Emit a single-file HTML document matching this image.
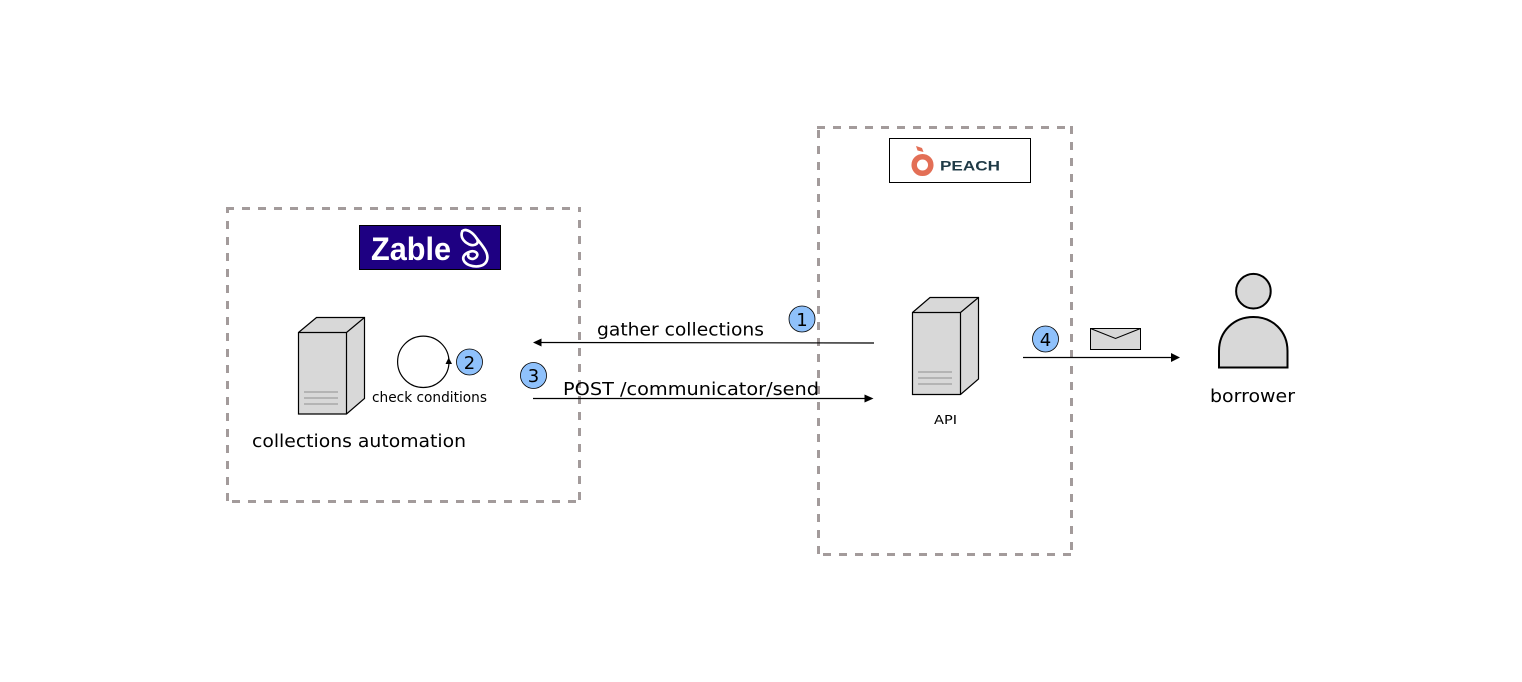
<!DOCTYPE html>
<html><head><meta charset="utf-8"><style>
html,body{margin:0;padding:0;background:#fff}
svg{display:block}
text{font-family:"DejaVu Sans",Verdana,sans-serif;fill:#000}
</style></head><body>
<svg width="1522" height="682" viewBox="0 0 1522 682" xmlns="http://www.w3.org/2000/svg">
<rect width="1522" height="682" fill="#fff"/>
<g fill="none" stroke="#a39b9b" stroke-width="3" stroke-dasharray="8 8">
<path d="M226 208.500H581"/>
<path d="M579.500 220V500"/>
<path d="M232 501.500H576"/>
<path d="M227.500 221V501"/>
<path d="M817 127.500H1073"/>
<path d="M818.500 130V554"/>
<path d="M1071.500 126V550"/>
<path d="M823 554.500H1071"/>
</g>
<path d="M227.500 207V213M579.500 207V212" stroke="#a39b9b" stroke-width="3" fill="none"/>
<!-- Zable logo -->
<rect x="359.500" y="225.500" width="141" height="44" fill="#1e0082" stroke="#000"/>
<text x="371" y="260" style="font-family:'Liberation Sans',sans-serif;font-weight:700;font-size:32px;fill:#fff" textLength="80" lengthAdjust="spacingAndGlyphs">Zable</text>
<g transform="translate(455 225) scale(.3333)" fill="none" stroke="#fff" stroke-width="8" stroke-linecap="round">
<path d="M22 18C35 8 55 25 65 40C75 55 60 65 42 58C25 50 15 35 22 18Z"/>
<path d="M65 40C80 60 105 85 95 108C85 130 45 128 30 112C18 98 28 85 45 80C60 75 72 85 65 95C55 108 35 100 40 88"/>
</g>
<!-- Peach logo -->
<rect x="889.500" y="138.500" width="141" height="44" fill="#fff" stroke="#000"/>
<circle cx="922.500" cy="165" r="8.300" fill="none" stroke="#e36f56" stroke-width="5.500"/>
<path d="M916 146L922 148L923.500 152L917.500 150.500Z" fill="#e36f56"/>
<text x="940" y="170.500" style="font-family:'Liberation Sans',sans-serif;font-weight:700;font-size:13.500px;fill:#1f3a46" textLength="60" lengthAdjust="spacingAndGlyphs">PEACH</text>
<!-- Server left -->
<g stroke="#000" stroke-width="1.200" fill="#d8d8d8">
<path d="M298.500 332.500L316.500 317.500H364.500V398.500L346.500 414H298.500Z"/>
<path d="M298.500 332.500H346.500L364.500 317.500M346.500 332.500V414" fill="none"/>
</g>
<path d="M304 392H338M304 398H338M304 404H338" stroke="#b4b4b4" stroke-width="2" fill="none"/>
<!-- Server right -->
<g stroke="#000" stroke-width="1.200" fill="#d8d8d8">
<path d="M912.500 312.500L930 297.500H978.500V379L960.500 394.500H912.500Z"/>
<path d="M912.500 312.500H960.500L978.500 297.500M960.500 312.500V394.500" fill="none"/>
</g>
<path d="M918 372H952M918 378H952M918 384H952" stroke="#b4b4b4" stroke-width="2" fill="none"/>
<!-- Loop -->
<circle cx="423.300" cy="361.800" r="25.700" fill="#fff" stroke="#000" stroke-width="1.200"/>
<path d="M448.700 357.500L452 364H445.500Z" fill="#000"/>
<!-- Arrows -->
<path d="M874 343L538 342.500" stroke="#000" stroke-width="1.200" fill="none"/>
<path d="M533 342.500L541.500 338.500V346.500Z" fill="#000"/>
<path d="M533 398.500H866" stroke="#000" stroke-width="1.200" fill="none"/>
<path d="M873.500 398.500L864.500 394.500V402.500Z" fill="#000"/>
<path d="M1023 357.500H1172" stroke="#000" stroke-width="1.200" fill="none"/>
<path d="M1180 357.500L1171 353V362Z" fill="#000"/>
<!-- Envelope -->
<rect x="1090.500" y="328.500" width="50" height="21" fill="#d8d8d8" stroke="#000" stroke-width="1"/>
<path d="M1090.500 328.500L1115.500 338.500L1140.500 328.500" fill="none" stroke="#000" stroke-width="1"/>
<!-- Person -->
<circle cx="1253.400" cy="291.200" r="17.300" fill="#d8d8d8" stroke="#000" stroke-width="2"/>
<path d="M1219 367.500V351C1219 331 1234 317 1253.400 317C1272.500 317 1287.500 331 1287.500 351V367.500Z" fill="#d8d8d8" stroke="#000" stroke-width="2"/>
<!-- Badges -->
<g fill="#8fc1fb" stroke="#000" stroke-width=".800">
<circle cx="802" cy="319" r="13"/>
<circle cx="469.500" cy="362" r="13"/>
<circle cx="533.500" cy="375.500" r="13"/>
<circle cx="1045.500" cy="339" r="13"/>
</g>
<g text-anchor="middle" font-size="18">
<text x="802" y="326">1</text>
<text x="469.500" y="369">2</text>
<text x="533.500" y="382">3</text>
<text x="1045.500" y="346">4</text>
</g>
<!-- Labels -->
<text x="597" y="335.500" font-size="18" textLength="167" lengthAdjust="spacingAndGlyphs">gather collections</text>
<text x="563" y="395" font-size="18" textLength="256" lengthAdjust="spacingAndGlyphs">POST /communicator/send</text>
<text x="252" y="447" font-size="18" textLength="214" lengthAdjust="spacingAndGlyphs">collections automation</text>
<text x="372" y="402" font-size="14" textLength="115" lengthAdjust="spacingAndGlyphs">check conditions</text>
<text x="934" y="424" font-size="12" textLength="23" lengthAdjust="spacingAndGlyphs">API</text>
<text x="1210" y="402" font-size="18" textLength="85" lengthAdjust="spacingAndGlyphs">borrower</text>
</svg>
</body></html>
